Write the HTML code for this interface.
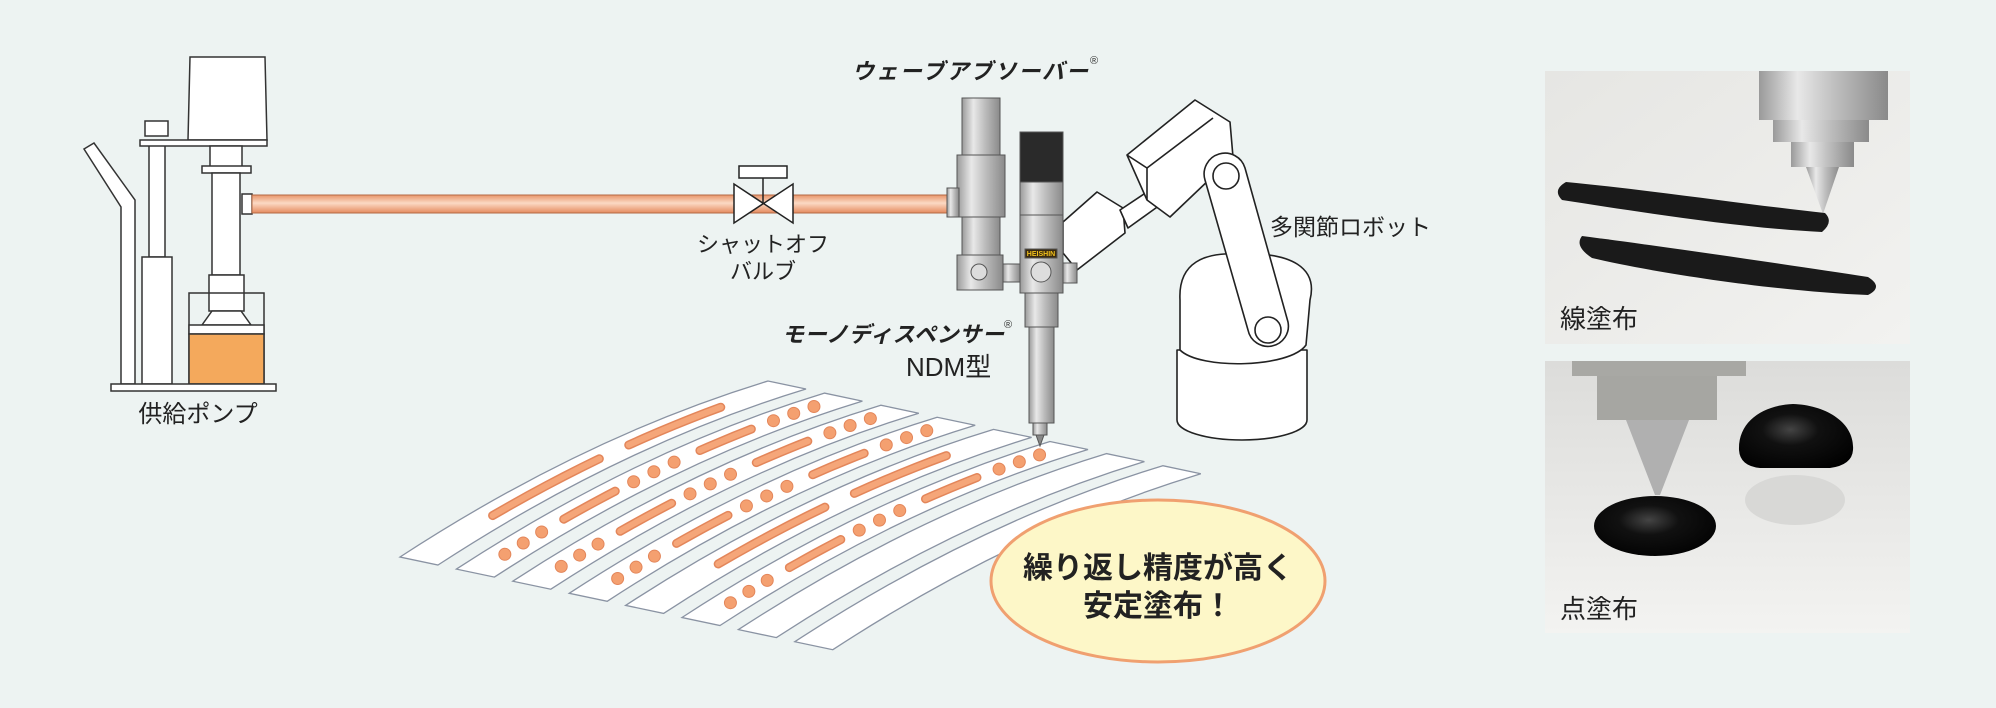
<!DOCTYPE html>
<html><head><meta charset="utf-8"><style>
html,body{margin:0;padding:0;background:#edf3f2;}
svg{display:block;}
text{font-family:"Liberation Sans","Noto Sans CJK JP",sans-serif;}
</style></head><body>
<svg id="s" width="1996" height="708" viewBox="0 0 1996 708" xmlns="http://www.w3.org/2000/svg">
<defs>
<linearGradient id="pipe" x1="0" y1="0" x2="0" y2="1"><stop offset="0" stop-color="#e8956a"/><stop offset=".45" stop-color="#fbd9c4"/><stop offset="1" stop-color="#e58a5e"/></linearGradient>
<linearGradient id="metal" x1="0" y1="0" x2="1" y2="0"><stop offset="0" stop-color="#9a9a9a"/><stop offset=".3" stop-color="#e8e8e8"/><stop offset=".6" stop-color="#bdbdbd"/><stop offset="1" stop-color="#8a8a8a"/></linearGradient>
<linearGradient id="ph1" x1="0" y1="0" x2="1" y2="1"><stop offset="0" stop-color="#e6e6e3"/><stop offset="1" stop-color="#f2f2f0"/></linearGradient>
<linearGradient id="ph2" x1="0" y1="0" x2="0" y2="1"><stop offset="0" stop-color="#dcdcda"/><stop offset="1" stop-color="#f3f3f1"/></linearGradient>
<radialGradient id="blob" cx=".45" cy=".4" r=".7"><stop offset="0" stop-color="#444"/><stop offset=".35" stop-color="#111"/><stop offset="1" stop-color="#000"/></radialGradient>
</defs>
<rect width="1996" height="708" fill="#edf3f2"/>
<g id="strips"></g>

<!-- pump -->
<g stroke="#333" stroke-width="1.5" fill="#fff">
<polygon points="84,149 94,143 135,200 135,384 121,384 121,207"/>
<rect x="149" y="144" width="16" height="113"/>
<rect x="145" y="121" width="23" height="15"/>
<rect x="142" y="257" width="30" height="127"/>
<polygon points="190,57 265,57 267,140 188,140"/>
<rect x="140" y="140" width="127" height="6"/>
<rect x="210" y="146" width="32" height="22"/>
<rect x="202" y="166" width="49" height="7"/>
<rect x="212" y="173" width="28" height="102"/>
<rect x="209" y="275" width="35" height="36"/>
<rect x="189" y="293" width="75" height="91" fill="none"/>
<polygon points="212,311 241,311 251,325 202,325"/>
<rect x="189" y="325" width="75" height="9"/>
<rect x="189" y="334" width="75" height="50" fill="#f4a95c"/>
<rect x="111" y="384" width="165" height="7"/>
<rect x="242" y="194" width="10" height="20"/>
</g>
<rect x="252" y="195" width="695" height="18" fill="url(#pipe)" stroke="#b46a45" stroke-width="1"/>
<!-- valve -->
<g stroke="#222" stroke-width="1.5" fill="#fff">
<polygon points="734,184 793,223 793,184 734,223"/>
<line x1="763" y1="178" x2="763" y2="204"/>
<rect x="739" y="166" width="48" height="12"/>
</g>
<text x="763" y="252" font-size="22" text-anchor="middle" fill="#222">シャットオフ</text>
<text x="763" y="279" font-size="22" text-anchor="middle" fill="#222">バルブ</text>
<text x="198" y="422" font-size="24" text-anchor="middle" fill="#222">供給ポンプ</text>

<!-- robot -->
<g stroke="#222" stroke-width="1.6" fill="#fff" stroke-linejoin="round">
<path d="M1177,350 L1177,420 A65,20 0 0 0 1307,420 L1307,350 Z"/>
<path d="M1180,300 C1178,262 1205,252 1240,254 C1292,252 1318,268 1310,300 L1306,345 C1290,368 1200,370 1180,350 Z"/>
<polygon points="1063,222 1097,192 1123,208 1125,233 1077,270 1063,253"/>
<polygon points="1120,210 1150,190 1160,205 1128,228"/>
<polygon points="1127,155 1195,100 1230,122 1233,157 1170,217 1147,200"/>
<line x1="1127" y1="155" x2="1147" y2="168"/><line x1="1147" y1="168" x2="1147" y2="200"/><line x1="1147" y1="168" x2="1213" y2="118"/>
<path d="M1205,180 L1248,330 A18,18 0 0 0 1288,322 L1245,168 A20,20 0 0 0 1205,180 Z"/>
<circle cx="1226" cy="176" r="13"/>
<circle cx="1268" cy="330" r="13"/>
</g>
<text x="1270" y="235" font-size="23" fill="#222">多関節ロボット</text>

<!-- wave absorber -->
<g stroke="#555" stroke-width="1" fill="url(#metal)">
<rect x="962" y="98" width="38" height="57"/>
<rect x="957" y="155" width="48" height="62"/>
<rect x="947" y="188" width="12" height="29"/>
<rect x="962" y="217" width="38" height="38"/>
<rect x="957" y="255" width="46" height="35"/>
<rect x="1003" y="264" width="17" height="18"/>
<circle cx="979" cy="272" r="8" fill="#ddd"/>
<!-- dispenser -->
<rect x="1020" y="132" width="43" height="50" fill="#2a2a2a"/>
<rect x="1020" y="182" width="43" height="33"/>
<rect x="1020" y="215" width="43" height="78"/>
<rect x="1063" y="263" width="14" height="20"/>
<rect x="1025" y="249" width="32" height="9" fill="#3a2a10"/>
<circle cx="1041" cy="272" r="10" fill="#ddd"/>
<rect x="1025" y="293" width="33" height="34"/>
<rect x="1029" y="327" width="25" height="96"/>
<rect x="1033" y="423" width="14" height="12"/>
<polygon points="1036,435 1044,435 1040,446" fill="#888"/>
</g>
<text x="1041" y="256" font-size="7" font-weight="bold" text-anchor="middle" fill="#f3c21b">HEISHIN</text>

<text x="852" y="79" font-size="22" font-weight="bold" font-style="italic" fill="#222" textLength="236">ウェーブアブソーバー</text>
<text x="1090" y="64" font-size="11" fill="#333">®</text>
<text x="782" y="342" font-size="22" font-weight="bold" font-style="italic" fill="#222" textLength="222">モーノディスペンサー</text>
<text x="1004" y="328" font-size="11" fill="#333">®</text>
<text x="906" y="376" font-size="26" fill="#222">NDM型</text>

<!-- bubble -->
<ellipse cx="1158" cy="581" rx="167" ry="81" fill="#fdf7c8" stroke="#f0a070" stroke-width="3"/>
<text x="1158" y="578" font-size="30" font-weight="bold" text-anchor="middle" fill="#222">繰り返し精度が高く</text>
<text x="1158" y="616" font-size="30" font-weight="bold" text-anchor="middle" fill="#222">安定塗布！</text>

<!-- photo 1 -->
<rect x="1545" y="71" width="365" height="273" fill="url(#ph1)"/>
<rect x="1759" y="71" width="129" height="49" fill="url(#metal)"/>
<rect x="1773" y="120" width="96" height="22" fill="url(#metal)"/>
<rect x="1791" y="142" width="63" height="25" fill="url(#metal)"/>
<polygon points="1806,167 1839,167 1823,214" fill="url(#metal)"/>
<path d="M1566,182 C1650,190 1750,205 1825,213 Q1834,222 1822,232 C1740,228 1640,212 1562,200 Q1552,190 1566,182Z" fill="#1a1a1a"/>
<path d="M1582,236 C1660,246 1790,265 1868,277 Q1884,287 1868,295 C1780,292 1650,272 1592,258 Q1574,246 1582,236Z" fill="#1a1a1a"/>
<text x="1560" y="328" font-size="26" fill="#222">線塗布</text>
<!-- photo 2 -->
<rect x="1545" y="361" width="365" height="272" fill="url(#ph2)"/>
<rect x="1572" y="361" width="174" height="15" fill="#a8a8a4"/>
<rect x="1597" y="376" width="120" height="44" fill="#a6a6a2"/>
<polygon points="1626,420 1689,420 1660,495 1655,495" fill="#b0b0b0"/>
<ellipse cx="1655" cy="526" rx="61" ry="30" fill="url(#blob)"/>
<ellipse cx="1795" cy="500" rx="50" ry="25" fill="#d8d8d6"/>
<path d="M1739,450 C1738,420 1765,405 1793,404 C1825,405 1855,422 1853,450 Q1852,465 1830,468 L1760,468 Q1740,466 1739,450Z" fill="url(#blob)"/>
<text x="1560" y="618" font-size="26" fill="#222">点塗布</text>
</svg>
<script>
var g=document.getElementById('strips'),h='';
function q(a,c,b,t){var u=1-t;return[u*u*a[0]+2*u*t*c[0]+t*t*b[0],u*u*a[1]+2*u*t*c[1]+t*t*b[1]];}
var P1=[['L',.20,.49],['L',.57,.82]];
var P2=[['D',.08,.18],['L',.24,.38],['D',.43,.54],['L',.61,.75],['D',.81,.92]];
var pats=[P1,P2,P2,P2,P1,P2,[],[]];
for(var i=0;i<8;i++){
 var dx=56.4*i,dy=12.1*i;
 var a=[400+dx,557+dy],c=[584+dx,437+dy],b=[768+dx,381+dy];
 var sx=38,sy=8;
 var d='M'+a+' Q'+c+' '+b+' L'+(b[0]+sx)+','+(b[1]+sy)+' Q'+(c[0]+sx)+','+(c[1]+sy)+' '+(a[0]+sx)+','+(a[1]+sy)+' Z';
 h+='<path d="'+d+'" fill="#fff" stroke="#8a93a3" stroke-width="1.3"/>';
 var A=[a[0]+19,a[1]+4],C=[c[0]+19,c[1]+4],B=[b[0]+19,b[1]+4];
 pats[i].forEach(function(s){
  if(s[0]=='L'){var pts=[];for(var k=0;k<=6;k++){pts.push(q(A,C,B,s[1]+(s[2]-s[1])*k/6).join(','));}
   h+='<polyline points="'+pts.join(' ')+'" fill="none" stroke="#e3865a" stroke-width="9" stroke-linecap="round"/>';
   h+='<polyline points="'+pts.join(' ')+'" fill="none" stroke="#f5a679" stroke-width="6" stroke-linecap="round"/>';}
  else{for(var k=0;k<3;k++){var p=q(A,C,B,s[1]+(s[2]-s[1])*k/2);h+='<circle cx="'+p[0]+'" cy="'+p[1]+'" r="6" fill="#f4a070" stroke="#e3865a" stroke-width="1"/>';}}
 });
}
g.innerHTML=h;
</script>
</body></html>
